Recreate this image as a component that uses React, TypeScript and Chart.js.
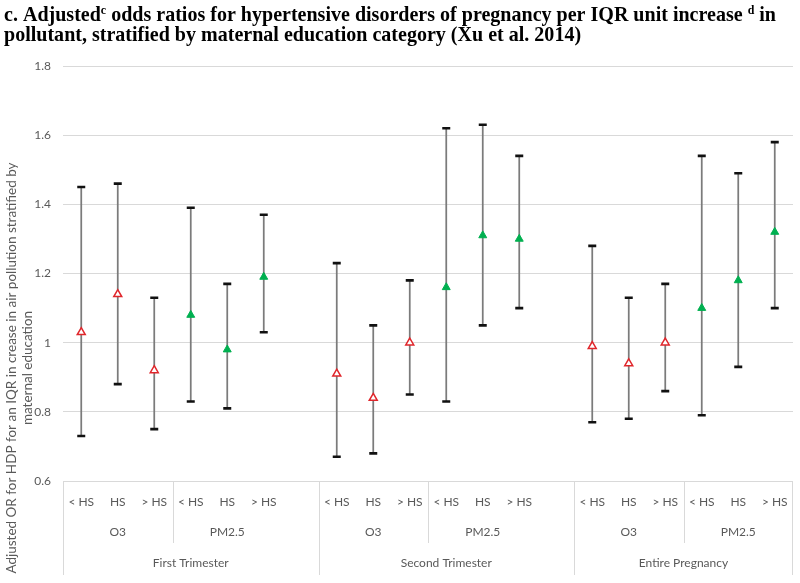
import React, { useEffect, useRef } from "react";
import { Chart, registerables } from "chart.js";

Chart.register(...registerables);

// ---------- data ----------
const periods = ["First Trimester", "Second Trimester", "Entire Pregnancy"];
const pollutants = ["O3", "PM2.5"];
const educationLevels = ["< HS", "HS", "> HS"];

// order: period -> pollutant -> education level
const orEstimates = [1.03, 1.14, 0.92, 1.08, 0.98, 1.19, 0.91, 0.84, 1.0, 1.16, 1.31, 1.3, 0.99, 0.94, 1.0, 1.1, 1.18, 1.32];
const ciLower = [0.73, 0.88, 0.75, 0.83, 0.81, 1.03, 0.67, 0.68, 0.85, 0.83, 1.05, 1.1, 0.77, 0.78, 0.86, 0.79, 0.93, 1.1];
const ciUpper = [1.45, 1.46, 1.13, 1.39, 1.17, 1.37, 1.23, 1.05, 1.18, 1.62, 1.63, 1.54, 1.28, 1.13, 1.17, 1.54, 1.49, 1.58];

const yTickLabels = ["0.6", "0.8", "1", "1.2", "1.4", "1.6", "1.8"];
const yMin = 0.6;
const yMax = 1.8;
const yStep = 0.2;

const titleLine1 = [
  { text: "c. Adjusted", sup: false },
  { text: "c", sup: true },
  { text: " odds ratios for hypertensive disorders of pregnancy per IQR unit increase ", sup: false },
  { text: "d", sup: true },
  { text: " in", sup: false },
];
const titleLine2 = [{ text: "pollutant, stratified by maternal education category (Xu et al. 2014)", sup: false }];
const yTitleLines = ["Adjusted OR for HDP for an IQR in crease in air pollution stratified by", "maternal education"];

// ---------- layout of category slots (spacer slot after 1st and 2nd period) ----------
const perPeriod = pollutants.length * educationLevels.length; // 6
const slotStride = perPeriod + 1; // 7 incl. spacer
const periodSlotCounts = periods.map((_, p) => (p < periods.length - 1 ? slotStride : perPeriod));
const totalSlots = periodSlotCounts.reduce((a, b) => a + b, 0);
const slotOf = (i: number) => Math.floor(i / perPeriod) * slotStride + (i % perPeriod);

const slotLabels: string[] = new Array(totalSlots).fill("");
orEstimates.forEach((_, i) => {
  slotLabels[slotOf(i)] = educationLevels[i % educationLevels.length];
});

const seriesData = (pIdx: number) => {
  const arr: (number | null)[] = new Array(totalSlots).fill(null);
  orEstimates.forEach((v, i) => {
    if (Math.floor(i / educationLevels.length) % pollutants.length === pIdx) arr[slotOf(i)] = v;
  });
  return arr;
};

const TICK_COLOR = "#595959";
const GRID_COLOR = "#d9d9d9";
const SANS = "Lato, 'Open Sans', sans-serif";

const errorBarPlugin = {
  id: "errorBars",
  beforeDatasetsDraw(chart: any) {
    const { ctx, scales } = chart;
    const xs = scales.x;
    const ys = scales.y;
    ctx.save();
    orEstimates.forEach((_, i) => {
      const x = xs.getPixelForValue(slotOf(i));
      const yLo = ys.getPixelForValue(ciLower[i]);
      const yHi = ys.getPixelForValue(ciUpper[i]);
      ctx.strokeStyle = "#7b7b7b";
      ctx.lineWidth = 1.75;
      ctx.beginPath();
      ctx.moveTo(x, yHi);
      ctx.lineTo(x, yLo);
      ctx.stroke();
      ctx.strokeStyle = "#111";
      ctx.lineWidth = 2.6;
      ctx.beginPath();
      ctx.moveTo(x - 4, yHi);
      ctx.lineTo(x + 4, yHi);
      ctx.moveTo(x - 4, yLo);
      ctx.lineTo(x + 4, yLo);
      ctx.stroke();
    });
    ctx.restore();
  },
};

const axisTablePlugin = {
  id: "axisTable",
  afterDraw(chart: any) {
    const { ctx, chartArea, scales } = chart;
    const xs = scales.x;
    const left = chartArea.left;
    const right = chartArea.right;
    const w = (right - left) / totalSlots;
    const y0 = chartArea.bottom;
    ctx.save();
    ctx.strokeStyle = GRID_COLOR;
    ctx.lineWidth = 1;
    ctx.fillStyle = TICK_COLOR;
    ctx.font = `12px ${SANS}`;
    ctx.textAlign = "center";
    ctx.textBaseline = "middle";
    const vline = (x: number, h: number) => {
      const px = Math.round(x) + 0.5;
      ctx.beginPath();
      ctx.moveTo(px, y0);
      ctx.lineTo(px, y0 + h);
      ctx.stroke();
    };
    slotLabels.forEach((lab, s) => {
      if (lab) ctx.fillText(lab, xs.getPixelForValue(s), y0 + 21);
    });
    let start = 0;
    periods.forEach((name, p) => {
      const startX = left + start * w;
      const endX = left + (start + periodSlotCounts[p]) * w;
      vline(startX, 94);
      pollutants.forEach((pol, k) => {
        const s0 = start + k * educationLevels.length;
        const cx = (xs.getPixelForValue(s0) + xs.getPixelForValue(s0 + educationLevels.length - 1)) / 2;
        ctx.fillText(pol, cx, y0 + 51);
        if (k > 0) vline(left + s0 * w, 62);
      });
      ctx.fillText(name, (startX + endX) / 2, y0 + 82);
      start += periodSlotCounts[p];
    });
    vline(right - 1, 94);
    ctx.restore();
  },
};

const textPlugin = {
  id: "texts",
  afterDraw(chart: any) {
    const { ctx } = chart;
    ctx.save();
    const baseFont = "bold 21px 'Liberation Serif', 'Times New Roman', serif";
    const supFont = "bold 12.5px 'Liberation Serif', 'Times New Roman', serif";
    const measure = (pieces: any[]) =>
      pieces.reduce((acc: number, p: any) => {
        ctx.font = p.sup ? supFont : baseFont;
        return acc + ctx.measureText(p.text).width;
      }, 0);
    const scale = Math.min(1, 772 / measure(titleLine1));
    const drawLine = (pieces: any[], baseline: number) => {
      ctx.save();
      ctx.translate(4, baseline);
      ctx.scale(scale, 1);
      let cx = 0;
      ctx.fillStyle = "#000";
      ctx.textAlign = "left";
      ctx.textBaseline = "alphabetic";
      pieces.forEach((p) => {
        ctx.font = p.sup ? supFont : baseFont;
        ctx.fillText(p.text, cx, p.sup ? -7.5 : 0);
        cx += ctx.measureText(p.text).width;
      });
      ctx.restore();
    };
    drawLine(titleLine1, 21);
    drawLine(titleLine2, 41);

    ctx.fillStyle = TICK_COLOR;
    ctx.font = `13.5px ${SANS}`;
    ctx.textAlign = "center";
    ctx.textBaseline = "middle";
    const xs = [12, 28];
    yTitleLines.forEach((line, i) => {
      ctx.save();
      ctx.translate(xs[i], 368);
      ctx.rotate(-Math.PI / 2);
      ctx.fillText(line, 0, 0);
      ctx.restore();
    });
    ctx.restore();
  },
};

export default function App() {
  const ref = useRef<HTMLCanvasElement | null>(null);
  useEffect(() => {
    if (!ref.current) return;
    Chart.defaults.font.family = SANS;
    const chart = new Chart(ref.current, {
      type: "line",
      data: {
        labels: slotLabels,
        datasets: [
          {
            label: pollutants[0],
            data: seriesData(0),
            showLine: false,
            pointStyle: "triangle",
            pointRadius: 4.6,
            pointBackgroundColor: "#ffffff",
            pointBorderColor: "#e0262b",
            pointBorderWidth: 1.5,
          },
          {
            label: pollutants[1],
            data: seriesData(1),
            showLine: false,
            pointStyle: "triangle",
            pointRadius: 4.6,
            pointBackgroundColor: "#00b050",
            pointBorderColor: "#00b050",
            pointBorderWidth: 1,
          },
        ],
      },
      options: {
        animation: false,
        responsive: false,
        devicePixelRatio: 1,
        layout: { padding: { top: 66, right: 7, left: 0, bottom: 0 } },
        plugins: { legend: { display: false }, tooltip: { enabled: false }, title: { display: false } },
        scales: {
          x: {
            type: "category",
            offset: true,
            grid: { display: false, drawTicks: false },
            border: { display: false },
            ticks: { display: false },
            afterFit: (s: any) => {
              s.height = 102;
            },
          },
          y: {
            min: yMin,
            max: yMax,
            ticks: {
              stepSize: yStep,
              padding: 12,
              color: TICK_COLOR,
              font: { family: SANS, size: 12 },
              callback: (_v: any, idx: number) => yTickLabels[idx],
            },
            grid: { color: GRID_COLOR, drawTicks: false, lineWidth: 1 },
            border: { display: false },
            afterFit: (s: any) => {
              s.width = 63;
            },
          },
        },
      },
      plugins: [errorBarPlugin, axisTablePlugin, textPlugin],
    } as any);
    return () => chart.destroy();
  }, []);
  return (
    <div style={{ position: "fixed", left: 0, top: 0, width: 800, height: 583, background: "#fff" }}>
      <canvas ref={ref} width={800} height={583} style={{ display: "block" }} />
    </div>
  );
}
